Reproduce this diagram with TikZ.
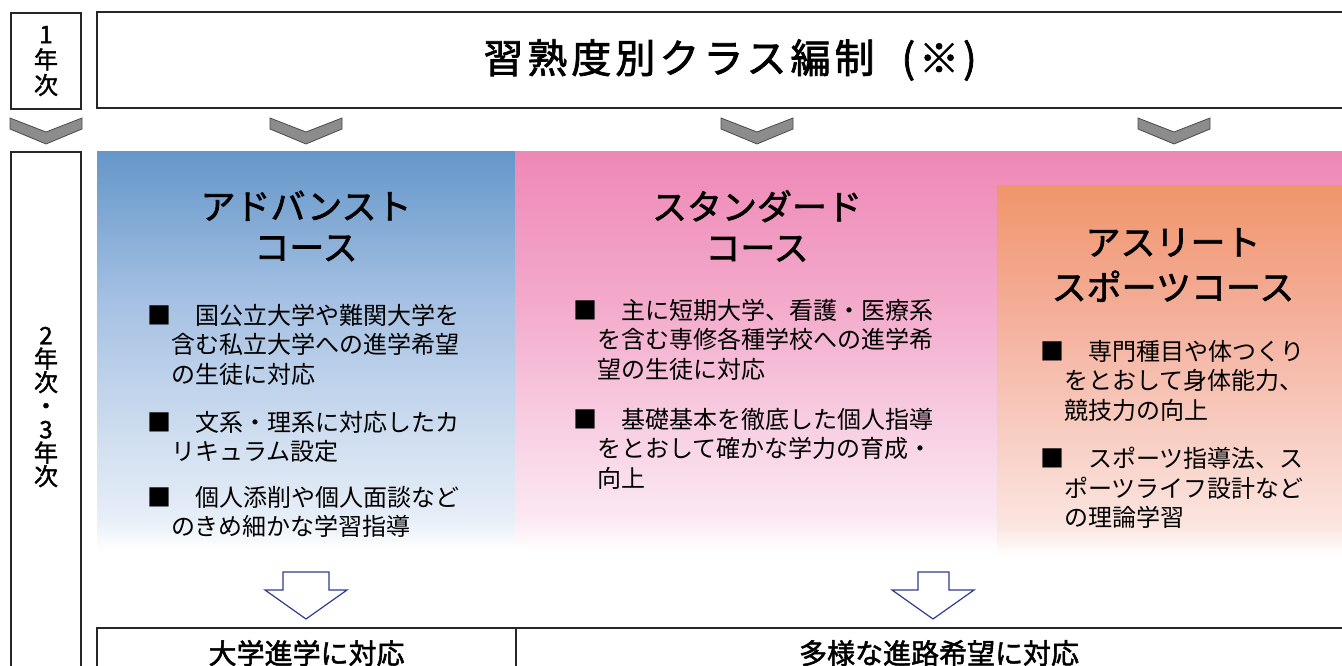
\documentclass[tikz,border=0pt]{standalone}
\usepackage{fontspec}
\setmainfont{Noto Sans CJK JP}
\newfontfamily\jpmed{Noto Sans CJK JP}[FakeBold=1.8]
\usetikzlibrary{positioning}

\definecolor{linec}{HTML}{262626}
\definecolor{chevc}{HTML}{8C8C8C}
\definecolor{chevline}{HTML}{4A4A4A}
\definecolor{arrowc}{HTML}{2F3D8E}
\definecolor{advtop}{HTML}{6597C9}
\definecolor{advmid}{HTML}{A6C1E3}
\definecolor{advlow}{HTML}{D2E0F1}
\definecolor{stdtop}{HTML}{EE88B6}
\definecolor{stdmid}{HTML}{F3AACB}
\definecolor{stdlow}{HTML}{F8D5E6}
\definecolor{athtop}{HTML}{F0956B}
\definecolor{athmid}{HTML}{F4AE99}
\definecolor{athlow}{HTML}{F8D0C6}

\pgfdeclareverticalshading{advshade}{100bp}{color(0bp)=(white); color(25bp)=(white); color(29bp)=(advlow!55!white); color(38bp)=(advlow); color(56bp)=(advmid); color(75bp)=(advtop); color(100bp)=(advtop)}
\pgfdeclareverticalshading{stdshade}{100bp}{color(0bp)=(white); color(25bp)=(white); color(29bp)=(stdlow!55!white); color(38bp)=(stdlow); color(56bp)=(stdmid); color(75bp)=(stdtop); color(100bp)=(stdtop)}
\pgfdeclareverticalshading{athshade}{100bp}{color(0bp)=(white); color(25bp)=(white); color(29bp)=(athlow!55!white); color(40bp)=(athlow); color(58bp)=(athmid); color(75bp)=(athtop); color(100bp)=(athtop)}

\begin{document}
\begin{tikzpicture}[x=1pt, y=-1pt,
    frame/.style={draw=linec, line width=2.2pt, inner sep=0},
    yeartext/.style={align=center, inner sep=0},
    ctitle/.style={align=center, inner sep=0, font=\jpmed\fontsize{35}{41}\selectfont},
    item/.style={anchor=north west, align=left, inner sep=0, font=\fontsize{24}{29.5}\selectfont},
    chev/.style={fill=chevc, draw=chevline, line width=0.8pt},
    hollow/.style={fill=white, draw=arrowc, line width=1.2pt},
    result/.style={frame, anchor=north west, minimum height=50, font=\jpmed\fontsize{28}{30}\selectfont}]
  \useasboundingbox (0,0) rectangle (1342,666);
  \clip (0,0) rectangle (1342,666);

  \shade[shading=advshade] (97,152) rectangle (515,550);
  \shade[shading=stdshade] (515,152) rectangle (1342,550);
  \shade[shading=athshade] (997,186) rectangle (1342,556);

  \node[frame, yeartext, minimum width=70, minimum height=96,
        font=\jpmed\fontsize{24}{25.5}\selectfont] (y1) at (46,61) {1\\年\\次};
  \node[frame, minimum width=1266, minimum height=96,
        font=\jpmed\fontsize{40}{48}\selectfont\addfontfeatures{LetterSpace=10}] (level) at (730,60)
        {習熟度別クラス編制\hspace{27pt}(※)};
  \node[frame, minimum width=70, minimum height=540] (y23box) at (46,422) {};
  \node[yeartext, font=\jpmed\fontsize{24}{23.5}\selectfont] (y23) at (46,407) {2\\年\\次\\・\\3\\年\\次};

  \foreach \cx in {46, 306, 757, 1174}
    \draw[chev] (\cx-36,118) -- (\cx,132) -- (\cx+36,118) -- (\cx+36,129)
                -- (\cx,144) -- (\cx-36,129) -- cycle;

  \node[ctitle] (adv) at (306,226) {アドバンスト\\コース};
  \node[item] (adv1) at (147,304) {■　国公立大学や難関大学を\\\hspace*{1em}含む私立大学への進学希望\\\hspace*{1em}の生徒に対応};
  \node[item] (adv2) at (147,411) {■　文系・理系に対応したカ\\\hspace*{1em}リキュラム設定};
  \node[item] (adv3) at (147,486) {■　個人添削や個人面談など\\\hspace*{1em}のきめ細かな学習指導};

  \node[ctitle] (std) at (757,226) {スタンダード\\コース};
  \node[item] (std1) at (573,299) {■　主に短期大学、看護・医療系\\\hspace*{1em}を含む専修各種学校への進学希\\\hspace*{1em}望の生徒に対応};
  \node[item] (std2) at (573,408) {■　基礎基本を徹底した個人指導\\\hspace*{1em}をとおして確かな学力の育成・\\\hspace*{1em}向上};

  \node[ctitle, font=\jpmed\fontsize{35}{45}\selectfont] (ath) at (1173,265) {アスリート\\スポーツコース};
  \node[item] (ath1) at (1040,340) {■　専門種目や体つくり\\\hspace*{1em}をとおして身体能力、\\\hspace*{1em}競技力の向上};
  \node[item] (ath2) at (1040,447) {■　スポーツ指導法、ス\\\hspace*{1em}ポーツライフ設計など\\\hspace*{1em}の理論学習};

  \draw[hollow] (283,572) -- (329,572) -- (329,590) -- (347,590) -- (306,619)
                -- (265,590) -- (283,590) -- cycle;
  \draw[hollow] (918,572) -- (949,572) -- (949,590) -- (974,590) -- (933,619)
                -- (892,590) -- (918,590) -- cycle;

  \node[result, minimum width=419] (uni) at (96,627) {大学進学に対応};
  \node[result, minimum width=846] (div) at (515,627) {多様な進路希望に対応};
\end{tikzpicture}
\end{document}
